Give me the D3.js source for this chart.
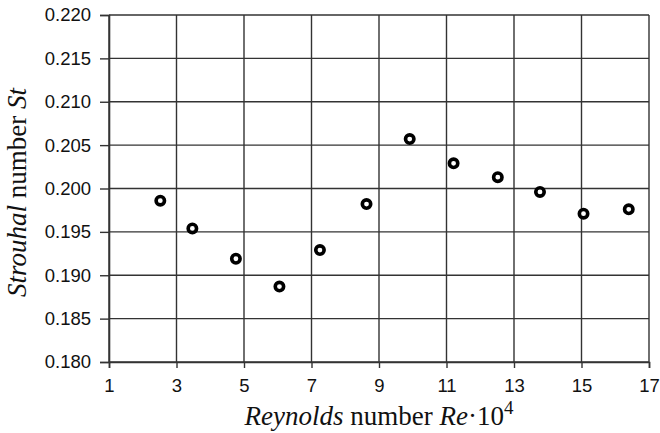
<!DOCTYPE html>
<html>
<head>
<meta charset="utf-8">
<script src="https://cdn.jsdelivr.net/npm/d3@7"></script>
<style>
  body { margin: 0; background: #fff; }
  svg { display: block; }
</style>
</head>
<body>
<svg id="chart" width="660" height="433"></svg>
<script>
// Reynolds number (x 10^4) and Strouhal number
const reynolds = [2.52, 3.47, 4.76, 6.05, 7.25, 8.63, 9.91, 11.21, 12.52, 13.77, 15.06, 16.40];
const strouhal = [0.1986, 0.1954, 0.1919, 0.1887, 0.1929, 0.1982, 0.2057, 0.2029, 0.2013, 0.1996, 0.1971, 0.1976];
const xTicks = [1, 3, 5, 7, 9, 11, 13, 15, 17];
const yTicks = [0.180, 0.185, 0.190, 0.195, 0.200, 0.205, 0.210, 0.215, 0.220];

const margin = { top: 15, right: 11, bottom: 71, left: 109 };
const width = 660, height = 433;

const svg = d3.select('#chart');

const x = d3.scaleLinear()
  .domain([1, 17])
  .range([margin.left, width - margin.right]);
const y = d3.scaleLinear()
  .domain([0.18, 0.22])
  .range([height - margin.bottom, margin.top]);

const lineColor = '#333';
const sans = '"Liberation Sans", Arial, sans-serif';
const serif = '"Liberation Serif", "Times New Roman", serif';

// grid
const grid = svg.append('g').attr('class', 'grid');
xTicks.forEach((t) => {
  grid.append('line')
    .attr('x1', x(t)).attr('x2', x(t))
    .attr('y1', y(0.22)).attr('y2', y(0.18))
    .attr('stroke', lineColor)
    .attr('stroke-width', 1.4);
});
yTicks.forEach((t) => {
  grid.append('line')
    .attr('x1', x(1)).attr('x2', x(17))
    .attr('y1', y(t)).attr('y2', y(t))
    .attr('stroke', lineColor)
    .attr('stroke-width', 1.4);
});

// axes
const xAxis = svg.append('g')
  .attr('transform', `translate(0,${y(0.18)})`)
  .call(d3.axisBottom(x).tickValues(xTicks).tickSize(6).tickPadding(11).tickFormat(d3.format('d')));
const yAxis = svg.append('g')
  .attr('transform', `translate(${x(1)},0)`)
  .call(d3.axisLeft(y).tickValues(yTicks).tickSize(9).tickPadding(9).tickFormat(d3.format('.3f')));

[xAxis, yAxis].forEach((ax) => {
  ax.attr('font-size', 18.5).attr('font-family', sans);
  ax.select('.domain').attr('stroke', lineColor).attr('stroke-width', 1.6);
  ax.selectAll('.tick line').attr('stroke', lineColor).attr('stroke-width', 1.4);
  ax.selectAll('.tick text').attr('fill', '#111');
});

// points
svg.append('g')
  .selectAll('circle')
  .data(reynolds.map((r, i) => ({ r, st: strouhal[i] })))
  .join('circle')
  .attr('cx', (d) => x(d.r))
  .attr('cy', (d) => y(d.st))
  .attr('r', 4.2)
  .attr('fill', '#fff')
  .attr('stroke', '#000')
  .attr('stroke-width', 3.6);

// axis titles
const xTitle = svg.append('text')
  .attr('x', (x(1) + x(17)) / 2)
  .attr('y', 425)
  .attr('text-anchor', 'middle')
  .attr('font-family', serif)
  .attr('font-size', 27)
  .attr('fill', '#111');
xTitle.append('tspan').attr('font-style', 'italic').text('Reynolds');
xTitle.append('tspan').text(' number ');
xTitle.append('tspan').attr('font-style', 'italic').text('Re');
xTitle.append('tspan').text('\u00b710');
xTitle.append('tspan').attr('dy', -11).attr('font-size', 19).text('4');

const yTitle = svg.append('text')
  .attr('transform', `translate(26,${(y(0.18) + y(0.22)) / 2 + 4}) rotate(-90)`)
  .attr('text-anchor', 'middle')
  .attr('font-family', serif)
  .attr('font-size', 27)
  .attr('fill', '#111');
yTitle.append('tspan').attr('font-style', 'italic').text('Strouhal');
yTitle.append('tspan').text(' number ');
yTitle.append('tspan').attr('font-style', 'italic').text('St');
</script>
</body>
</html>
